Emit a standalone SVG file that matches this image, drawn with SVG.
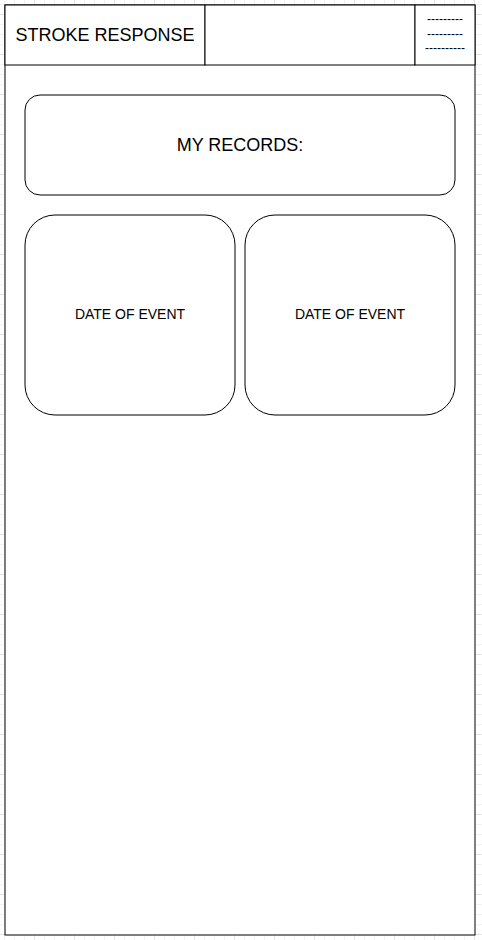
<svg xmlns="http://www.w3.org/2000/svg" width="482" height="940" viewBox="0 0 482 940">
  <defs>
    <pattern id="gridMinor" patternUnits="userSpaceOnUse" x="4" y="4" width="10" height="10">
      <rect x="0" y="0" width="10" height="1" fill="#f2f2f2"/>
      <rect x="0" y="0" width="1" height="10" fill="#f2f2f2"/>
    </pattern>
    <pattern id="gridMajor" patternUnits="userSpaceOnUse" x="34" y="14" width="40" height="40">
      <rect x="0" y="0" width="40" height="1" fill="#e3e3e3"/>
      <rect x="0" y="0" width="1" height="40" fill="#e3e3e3"/>
    </pattern>
  </defs>
  <style>
    .box { fill: #ffffff; stroke: #000000; stroke-width: 1; }
    .txt { font-family: "Liberation Sans", Helvetica, Arial, sans-serif; fill: #000000; text-anchor: middle; }
    .t18 { font-size: 18px; }
    .t14 { font-size: 14px; }
    .t12 { font-size: 12px; }
  </style>
  <rect x="0" y="0" width="482" height="940" fill="#ffffff"/>
  <rect x="0" y="0" width="482" height="940" fill="url(#gridMinor)"/>
  <rect x="0" y="0" width="482" height="940" fill="url(#gridMajor)"/>

  <g id="frame">
    <rect class="box" x="5" y="5" width="470" height="930"/>
  </g>

  <g id="header-title">
    <rect class="box" x="5" y="5" width="200" height="60"/>
    <text class="txt t18" x="105" y="41">STROKE RESPONSE</text>
  </g>
  <g id="header-middle">
    <rect class="box" x="205" y="5" width="210" height="60"/>
  </g>
  <g id="header-menu">
    <rect class="box" x="415" y="5" width="60" height="60"/>
    <text class="txt t12" x="445" y="23">---------</text>
    <text class="txt t12" x="445" y="38">---------</text>
    <text class="txt t12" x="445" y="52">----------</text>
  </g>

  <g id="my-records">
    <rect class="box" x="25" y="95" width="430" height="100" rx="15" ry="15"/>
    <text class="txt t18" x="240" y="151">MY RECORDS:</text>
  </g>

  <g id="event-card-1">
    <rect class="box" x="25" y="215" width="210" height="200" rx="30" ry="30"/>
    <text class="txt t14" x="130" y="319">DATE OF EVENT</text>
  </g>
  <g id="event-card-2">
    <rect class="box" x="245" y="215" width="210" height="200" rx="30" ry="30"/>
    <text class="txt t14" x="350" y="319">DATE OF EVENT</text>
  </g>

  <g id="connectors"></g>
</svg>
